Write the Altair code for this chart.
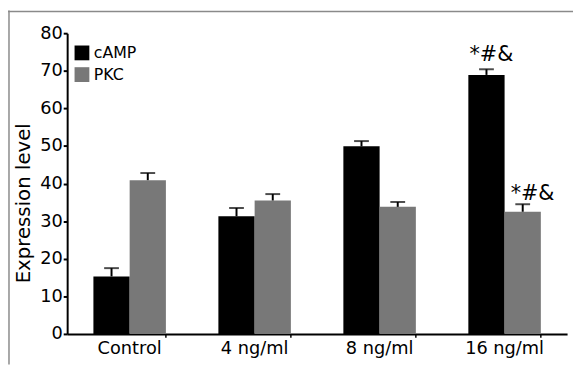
import altair as alt
import pandas as pd

categories = ["Control", "4 ng/ml", "8 ng/ml", "16 ng/ml"]
series = ["cAMP", "PKC"]
camp_values = [15.3, 31.3, 49.9, 68.9]
camp_errors = [2.2, 2.2, 1.4, 1.5]
pkc_values = [40.9, 35.5, 33.8, 32.5]
pkc_errors = [1.9, 1.7, 1.3, 2.0]
camp_marks = ["", "", "", "*#&"]
pkc_marks = ["", "", "", "*#&"]
y_ticks = [0, 10, 20, 30, 40, 50, 60, 70, 80]
colors = ["#000000", "#787878"]

rows = []
for i, c in enumerate(categories):
    rows.append(dict(cat=c, series="cAMP", value=camp_values[i],
                     upper=camp_values[i] + camp_errors[i], mark=camp_marks[i]))
    rows.append(dict(cat=c, series="PKC", value=pkc_values[i],
                     upper=pkc_values[i] + pkc_errors[i], mark=pkc_marks[i]))
df = pd.DataFrame(rows)
frame_df = pd.DataFrame({"a": [0]})

FONT = "DejaVu Sans"
yscale = alt.Scale(domain=[0, 80], nice=False)
yaxis = alt.Axis(values=y_ticks, tickCount=9, title="Expression level", grid=False,
                 labelFontSize=18, labelColor="black", labelFont=FONT,
                 labelOverlap=False, labelFlush=False,
                 tickSize=4, tickWidth=2, tickColor="black", labelPadding=1,
                 domainColor="black", domainWidth=2,
                 titleFontSize=20, titleFontWeight="normal", titleColor="black",
                 titleFont=FONT, titleX=-38, titleY=172, titleBaseline="alphabetic",
                 titleAngle=270)

x = alt.X("cat:N", sort=categories,
          scale=alt.Scale(paddingInner=0.42, paddingOuter=0.21),
          axis=alt.Axis(title=None, labelFontSize=18, labelColor="black", ticks=False,
                        domainColor="black", domainWidth=2, labelPadding=6, labelAngle=0,
                        labelFont=FONT))
xo = alt.XOffset("series:N", sort=series)
y = alt.Y("value:Q", scale=yscale, axis=yaxis)
y_up = alt.Y("upper:Q", scale=yscale, axis=yaxis)
color = alt.Color("series:N", sort=series,
                  scale=alt.Scale(domain=series, range=colors),
                  legend=alt.Legend(title=None, orient="none", legendX=7, legendY=12,
                                    symbolType="square", symbolSize=225, symbolStrokeWidth=0,
                                    symbolOpacity=1, labelFontSize=16, labelFont=FONT,
                                    labelColor="black", rowPadding=6, labelOffset=4))

bars = alt.Chart(df).mark_bar(opacity=1).encode(x=x, xOffset=xo, y=y, color=color)
err = alt.Chart(df).mark_rule(color="black", strokeWidth=2).encode(
    x=x, xOffset=xo, y=y, y2="upper:Q")
caps = alt.Chart(df).mark_tick(color="black", thickness=2, size=15, orient="horizontal").encode(
    x=x, xOffset=xo, y=y_up)
ticks = alt.Chart(df).transform_filter(alt.datum.series == "cAMP").mark_rule(
    color="black", strokeWidth=1.5).encode(
    x=alt.X("cat:N", sort=categories, bandPosition=1), y=alt.value(305), y2=alt.value(309))
text_camp = alt.Chart(df).transform_filter(alt.datum.series == "cAMP").mark_text(
    fontSize=21, font=FONT, color="black", baseline="bottom", dx=5, dy=-4).encode(
    x=x, xOffset=xo, y=y_up, text="mark:N")
text_pkc = alt.Chart(df).transform_filter(alt.datum.series == "PKC").mark_text(
    fontSize=21, font=FONT, color="black", baseline="bottom", dx=10, dy=0).encode(
    x=x, xOffset=xo, y=y_up, text="mark:N")

frame_left = alt.Chart(frame_df).mark_rule(color="#8a8a8a", strokeWidth=1.5).encode(
    x=alt.value(-59), y=alt.value(-23), y2=alt.value(336))
frame_top = alt.Chart(frame_df).mark_rule(color="#8a8a8a", strokeWidth=1.5).encode(
    x=alt.value(-60), x2=alt.value(513), y=alt.value(-22))

chart = alt.layer(bars, err, caps, ticks, text_camp, text_pkc, frame_left, frame_top).properties(
    width=507, height=305,
    autosize=alt.AutoSizeParams(type="none"),
    padding={"left": 60, "top": 23, "right": 6, "bottom": 31},
).configure_view(stroke=None)

chart.save("out.html", embed_options={"renderer": "svg", "actions": False})
